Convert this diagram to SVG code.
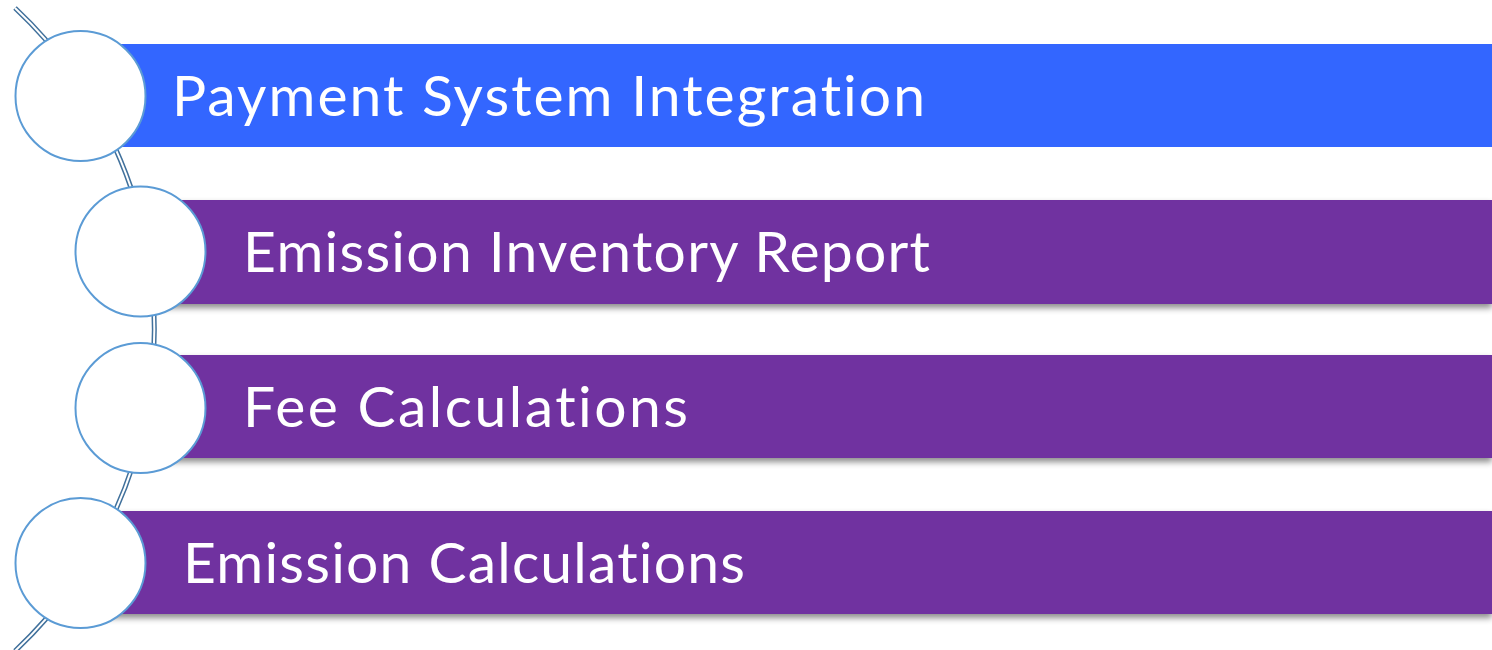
<svg xmlns="http://www.w3.org/2000/svg" width="1492" height="650" viewBox="0 0 1492 650">
<style>
.bar-blue{fill:#3366FF}
.bar-purple{fill:#7030A0}
.ring{fill:#FFFFFF;stroke:#5B9BD5;stroke-width:2}
.lbl{font-family:"Lato","Open Sans","Liberation Sans",sans-serif;font-size:57px;fill:#FFFFFF;font-variant-ligatures:none;font-feature-settings:"liga" 0,"clig" 0}
.spine-out{fill:none;stroke:#41719C;stroke-width:5}
.spine-in{fill:none;stroke:#FFFFFF;stroke-width:2}
</style>
<defs>
<filter id="shadow" x="-5%" y="-20%" width="110%" height="150%">
<feDropShadow dx="0" dy="4" stdDeviation="3" flood-color="#000000" flood-opacity="0.45"/>
</filter>
</defs>
<rect width="1492" height="650" fill="#FFFFFF"/>
<g id="connectors">
<path class="spine-out" d="M 15 8 A 440.6 440.6 0 0 1 15 651"/>
<path class="spine-in" d="M 15 8 A 440.6 440.6 0 0 1 15 651"/>
</g>
<g id="node1">
<rect class="bar-blue" x="80" y="44" width="1412" height="103"/>
<circle class="ring" cx="80.5" cy="96" r="65"/>
<text class="lbl" x="172" y="116" textLength="753" lengthAdjust="spacing">Payment System Integration</text>
</g>
<g id="node2">
<rect class="bar-purple" x="140" y="200" width="1352" height="104" filter="url(#shadow)"/>
<circle class="ring" cx="140.5" cy="251.5" r="65"/>
<text class="lbl" x="243" y="272" textLength="687" lengthAdjust="spacing">Emission Inventory Report</text>
</g>
<g id="node3">
<rect class="bar-purple" x="140" y="355" width="1352" height="103" filter="url(#shadow)"/>
<circle class="ring" cx="140.5" cy="408" r="65"/>
<text class="lbl" x="243" y="427" textLength="445" lengthAdjust="spacing">Fee Calculations</text>
</g>
<g id="node4">
<rect class="bar-purple" x="80" y="511" width="1412" height="103" filter="url(#shadow)"/>
<circle class="ring" cx="80.5" cy="563" r="65"/>
<text class="lbl" x="183" y="583" textLength="562" lengthAdjust="spacing">Emission Calculations</text>
</g>
</svg>
